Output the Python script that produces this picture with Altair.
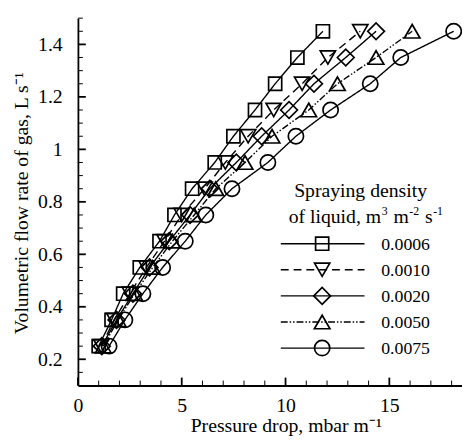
import altair as alt
import pandas as pd

# ---- data ----
flow = [0.25, 0.35, 0.45, 0.55, 0.65, 0.75, 0.85, 0.95, 1.05, 1.15, 1.25, 1.35, 1.45]
dp_0006 = [1.0, 1.62, 2.18, 2.98, 3.93, 4.65, 5.5, 6.59, 7.49, 8.53, 9.5, 10.57, 11.8]
dp_0010 = [1.12, 1.75, 2.5, 3.3, 4.17, 5.0, 6.1, 7.1, 8.2, 9.43, 10.8, 12.04, 13.6]
dp_0020 = [1.15, 1.86, 2.65, 3.45, 4.4, 5.4, 6.35, 7.63, 8.85, 10.17, 11.37, 12.9, 14.36]
dp_0050 = [1.22, 1.94, 2.73, 3.6, 4.55, 5.6, 6.64, 8.05, 9.35, 11.12, 12.5, 14.36, 16.1]
dp_0075 = [1.5, 2.26, 3.13, 4.08, 5.17, 6.16, 7.42, 9.15, 10.5, 12.17, 14.08, 15.55, 18.1]
series_labels = ["0.0006", "0.0010", "0.0020", "0.0050", "0.0075"]
series_values = [dp_0006, dp_0010, dp_0020, dp_0050, dp_0075]

x_major = [0, 5, 10, 15]
x_minor = [1, 2, 3, 4, 6, 7, 8, 9, 11, 12, 13, 14, 16, 17, 18]
y_major = [0.2, 0.4, 0.6, 0.8, 1.0, 1.2, 1.4]
y_minor = [0.15, 0.25, 0.3, 0.35, 0.45, 0.5, 0.55, 0.65, 0.7, 0.75, 0.85, 0.9, 0.95,
           1.05, 1.1, 1.15, 1.25, 1.3, 1.35, 1.45, 1.5]

legend_title_1 = "Spraying density"
legend_title_2 = ["of liquid, m", "3", "m", "-2", "s", "-1"]
x_title = "Pressure drop, mbar m\u207b\u00b9"
y_title = "Volumetric flow rate of gas, L s\u207b\u00b9"

# ---- styles ----
FONT = "Liberation Serif"
W, H = 390, 373
shapes = ["square", "triangle-down", "diamond", "triangle-up", "circle"]
sizes = [177, 240, 290, 250, 240]
dashes = [[1, 0], [8, 5], [1, 0], [7, 2, 1.5, 2, 1.5, 2], [1, 0]]
LW = 1.4

xs = alt.Scale(domain=[0, 18.5], nice=False, zero=False)
ys = alt.Scale(domain=[0.1, 1.5], nice=False, zero=False)

x_axis = alt.Axis(title=x_title, values=x_major, labelFlush=False, ticks=False, tickSize=0,
                  labelPadding=10, titleX=211, titleY=47, titleBaseline="alphabetic",
                  titleAlign="center", titleAnchor="start")
y_axis = alt.Axis(title=y_title, values=y_major, format="~g", labelFlush=False, ticks=False,
                  tickSize=0, labelPadding=16, titleX=-51, titleY=187.5, titleAngle=270,
                  titleBaseline="alphabetic", titleAlign="center", titleAnchor="start")

X = lambda: alt.X("x:Q", scale=xs, axis=x_axis)
Y = lambda: alt.Y("y:Q", scale=ys, axis=y_axis)

layers = []

for i, (lab, vals) in enumerate(zip(series_labels, series_values)):
    df = pd.DataFrame({"x": vals, "y": flow})
    layers.append(alt.Chart(df).mark_line(color="black", strokeWidth=LW, strokeDash=dashes[i]).encode(
        x=X(), y=Y(), order=alt.Order("y:Q")))
    layers.append(alt.Chart(df).mark_point(shape=shapes[i], size=sizes[i], filled=False,
                                           color="black", strokeWidth=1.7, opacity=1).encode(
        x=X(), y=Y()))

# axis ticks drawn inward
tx_major = pd.DataFrame({"x": x_major})
tx_minor = pd.DataFrame({"x": x_minor})
ty_major = pd.DataFrame({"y": y_major})
ty_minor = pd.DataFrame({"y": y_minor})

layers.append(alt.Chart(tx_major).mark_rule(color="black", strokeWidth=1.8).encode(
    x=X(), y=alt.value(H), y2=alt.value(H - 8)))
layers.append(alt.Chart(tx_minor).mark_rule(color="black", strokeWidth=1).encode(
    x=X(), y=alt.value(H), y2=alt.value(H - 5)))
layers.append(alt.Chart(ty_major).mark_rule(color="black", strokeWidth=1.8).encode(
    y=Y(), x=alt.value(0), x2=alt.value(8)))
layers.append(alt.Chart(ty_minor).mark_rule(color="black", strokeWidth=1).encode(
    y=Y(), x=alt.value(0), x2=alt.value(5)))

# legend
for i, lab in enumerate(series_labels):
    ld = pd.DataFrame({"label": [lab]})
    base_y = 235 + i * 26.5
    layers.append(alt.Chart(ld).mark_rule(color="black", strokeWidth=LW, strokeDash=dashes[i]).encode(
        x=alt.value(206), x2=alt.value(291), y=alt.value(base_y - 6)))
    layers.append(alt.Chart(ld).mark_point(shape=shapes[i], size=sizes[i], filled=False,
                                           color="black", strokeWidth=1.7, opacity=1).encode(
        x=alt.value(248), y=alt.value(base_y - 6)))
    layers.append(alt.Chart(ld).mark_text(font=FONT, fontSize=18, align="left",
                                          baseline="alphabetic", color="black").encode(
        x=alt.value(308), y=alt.value(base_y), text="label:N"))

layers.append(alt.Chart(pd.DataFrame({"t": [legend_title_1]})).mark_text(
    font=FONT, fontSize=20, align="center", baseline="alphabetic", color="black").encode(
    x=alt.value(287), y=alt.value(182), text="t:N"))

# second title line assembled from normal text and small raised superscripts
BIG, SMALL = 20, 12
em = {"of liquid, m": 4.695, "3": 0.5, "m": 0.778, "-2": 0.833, "s": 0.389, "-1": 0.833}
space = 0.25 * BIG
cx = 214
for k, piece in enumerate(legend_title_2):
    sup = k % 2 == 1
    fs = SMALL if sup else BIG
    layers.append(alt.Chart(pd.DataFrame({"t": [piece]})).mark_text(
        font=FONT, fontSize=fs, align="left", baseline="alphabetic", color="black").encode(
        x=alt.value(cx), y=alt.value(200 if sup else 208), text="t:N"))
    cx += em[piece] * fs + (1 + space if sup else 0.5)

chart = alt.layer(*layers).properties(
    width=W, height=H,
    padding={"left": 71, "top": 7, "right": 0, "bottom": 51},
    autosize=alt.AutoSizeParams(type="none"),
).configure_view(stroke=None).configure_axis(
    domainColor="black", domainWidth=1.8, grid=False,
    labelFont=FONT, labelFontSize=20, labelColor="black",
    titleFont=FONT, titleFontSize=20, titleColor="black", titleFontWeight="normal",
)

chart.save("out.html", embed_options={"renderer": "svg", "actions": False})
